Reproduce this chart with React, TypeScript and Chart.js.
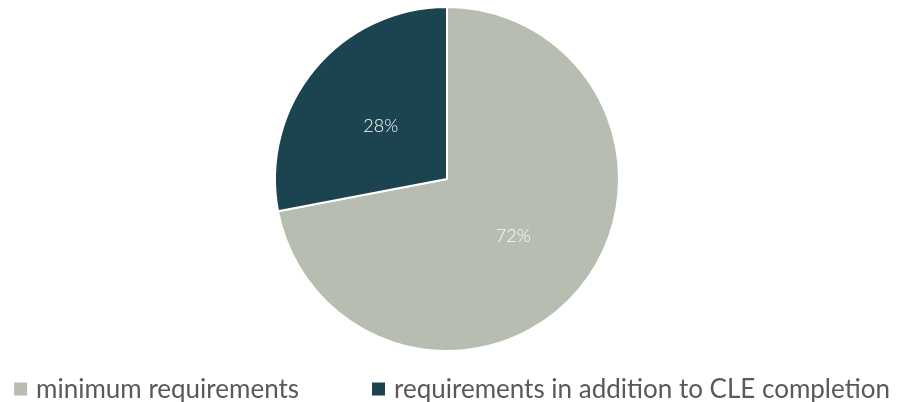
import React, { useEffect, useRef } from 'react';
import { Chart, registerables } from 'chart.js';

Chart.register(...registerables);

const categories = ['minimum requirements', 'requirements in addition to CLE completion'];
const values = [72, 28];
const valueLabels = ['72%', '28%'];
const colors = ['#B7BDB0', '#1B4350'];

const sliceLabelPlugin = {
  id: 'sliceLabels',
  afterDatasetsDraw(chart: any) {
    const ctx = chart.ctx;
    const meta = chart.getDatasetMeta(0);
    ctx.save();
    ctx.font = '300 18px Lato';
    ctx.fillStyle = '#FFFFFF';
    ctx.textAlign = 'center';
    ctx.textBaseline = 'middle';
    meta.data.forEach((arc: any, i: number) => {
      const p = arc.tooltipPosition();
      ctx.fillText(valueLabels[i], p.x, p.y + 2);
    });
    ctx.restore();
  },
};

const bottomLegendPlugin = {
  id: 'bottomLegend',
  afterDraw(chart: any) {
    const ctx = chart.ctx;
    ctx.save();
    ctx.font = '26px Lato';
    ctx.textBaseline = 'middle';
    ctx.textAlign = 'left';
    const box = 13;
    const gap = 9;
    const itemGap = 73;
    const widths = categories.map((c) => ctx.measureText(c).width);
    const total = widths.reduce((a, w) => a + box + gap + w, 0) + itemGap * (categories.length - 1);
    let x = (chart.width - total) / 2 + 3;
    const y = 389;
    categories.forEach((c, i) => {
      ctx.fillStyle = colors[i];
      ctx.fillRect(x, y - box / 2, box, box);
      ctx.fillStyle = '#595959';
      ctx.fillText(c, x + box + gap, y + 1);
      x += box + gap + widths[i] + itemGap;
    });
    ctx.restore();
  },
};

export default function App() {
  const ref = useRef<HTMLCanvasElement | null>(null);
  useEffect(() => {
    if (!ref.current) return;
    const chart = new Chart(ref.current, {
      type: 'pie',
      data: {
        labels: categories,
        datasets: [
          {
            data: values,
            backgroundColor: colors,
            borderColor: '#FFFFFF',
            borderWidth: 2,
          },
        ],
      },
      options: {
        animation: false,
        responsive: true,
        maintainAspectRatio: false,
        layout: { padding: { top: 6, bottom: 50, left: 0, right: 4 } },
        plugins: {
          legend: { display: false },
          tooltip: { enabled: false },
        },
      },
      plugins: [sliceLabelPlugin, bottomLegendPlugin],
    });
    return () => chart.destroy();
  }, []);
  return (
    <div style={{ position: 'absolute', left: 0, top: 0, width: 898, height: 402, background: '#FFFFFF' }}>
      <canvas ref={ref} />
    </div>
  );
}
